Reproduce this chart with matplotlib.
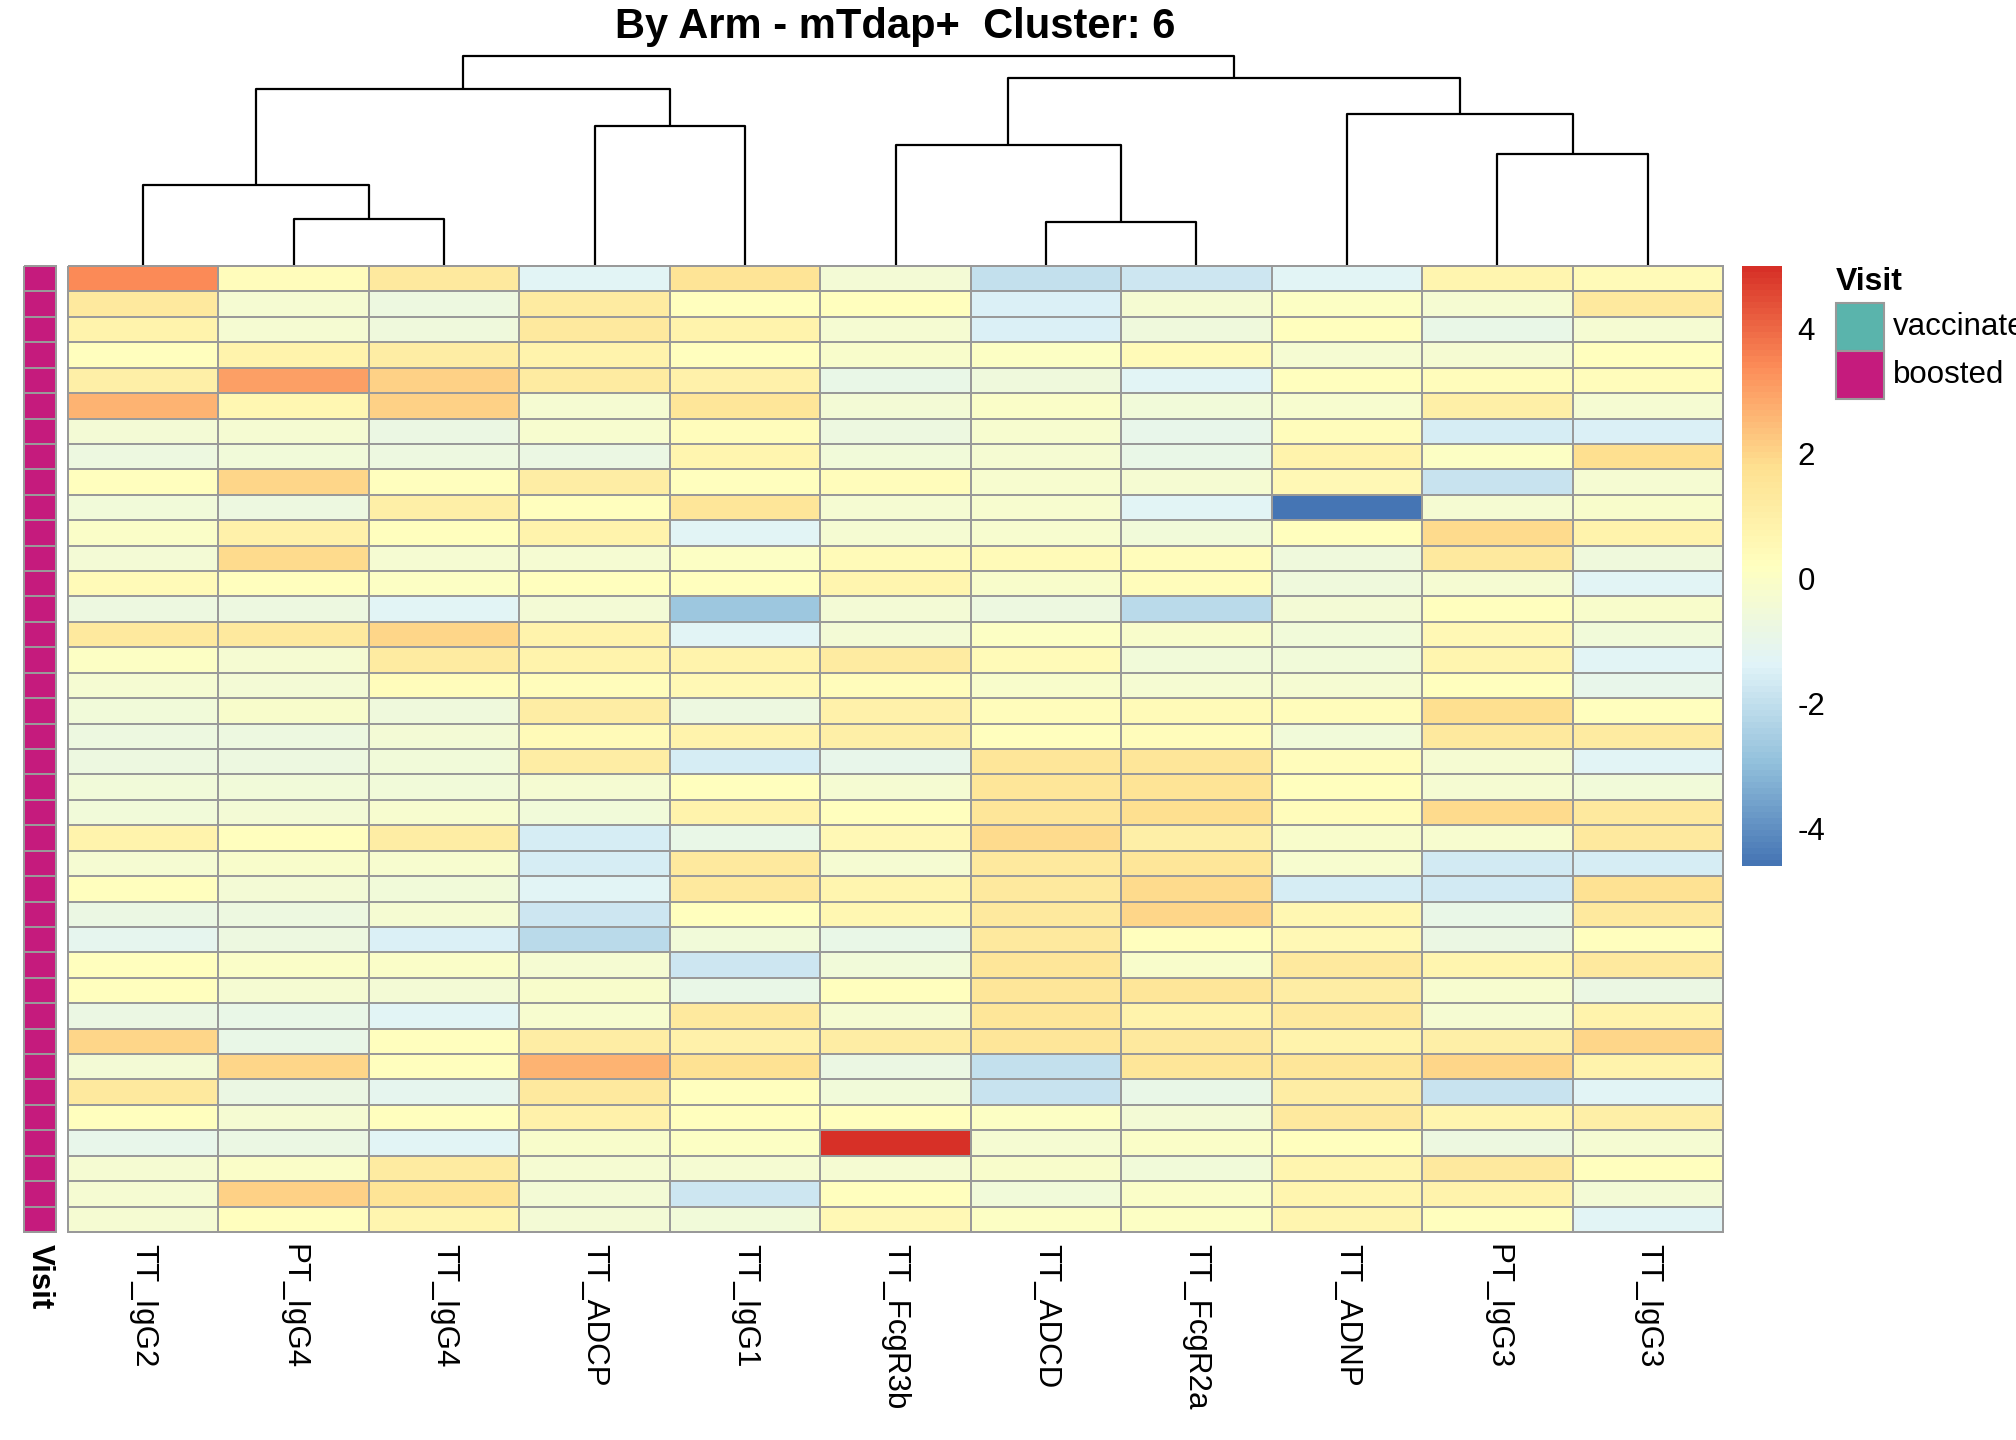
import numpy as np
import matplotlib
matplotlib.use("Agg")
import matplotlib.pyplot as plt
from matplotlib.colors import LinearSegmentedColormap, ListedColormap, Normalize
from matplotlib.patches import Rectangle

plt.rcParams['font.family'] = ['Liberation Sans', 'DejaVu Sans']
plt.rcParams['axes.unicode_minus'] = False

# column order as shown (after clustering)
features = ['TT_IgG2', 'PT_IgG4', 'TT_IgG4', 'TT_ADCP', 'TT_IgG1', 'TT_FcgR3b',
            'TT_ADCD', 'TT_FcgR2a', 'TT_ADNP', 'PT_IgG3', 'TT_IgG3']

# scaled values, one list per feature (38 samples, top to bottom)
tt_igg2 = [3.45, 1.3, 0.8, 0.2, 1.0, 2.65, -0.4, -0.7, 0.2, -0.5, 0.0, -0.4, 0.4, -0.7, 1.3, 0.1, -0.3, -0.5, -0.7,
           -0.7, -0.5, -0.5, 0.8, -0.3, 0.2, -0.8, -1.1, 0.2, 0.2, -0.8, 1.95, -0.4, 1.3, 0.2, -1.0, -0.3, -0.3, -0.3]
pt_igg4 = [0.3, -0.3, -0.3, 0.8, 3.05, 0.6, -0.3, -0.5, 1.95, -0.7, 0.9, 1.9, 0.2, -0.7, 1.3, -0.3, -0.4, -0.1, -0.7,
           -0.7, -0.5, -0.4, 0.2, -0.1, -0.4, -0.7, -0.7, 0.0, -0.3, -0.9, -0.9, 1.95, -0.8, -0.3, -0.8, 0.0, 2.05, 0.2]
tt_igg4 = [1.3, -0.7, -0.6, 1.1, 2.05, 2.1, -0.8, -0.7, 0.2, 1.0, 0.2, -0.3, 0.1, -1.3, 1.95, 1.2, 0.3, -0.6, -0.4,
           -0.5, -0.5, -0.2, 1.1, -0.2, -0.5, -0.3, -1.5, 0.0, -0.4, -1.3, 0.2, 0.2, -1.1, 0.2, -1.3, 1.2, 1.6, 0.7]
tt_adcp = [-1.3, 1.2, 1.3, 0.8, 1.2, -0.3, -0.2, -0.8, 1.1, 0.2, 0.8, -0.3, 0.2, -0.4, 0.8, 0.8, 0.3, 1.1, 0.4,
           1.1, -0.3, -0.5, -1.55, -1.55, -1.3, -1.8, -2.15, -0.3, -0.1, -0.2, 1.1, 2.65, 1.3, 0.9, -0.1, -0.3, -0.4, -0.4]
tt_igg1 = [1.6, 0.2, 0.8, 0.2, 0.9, 1.5, 0.3, 0.7, 0.2, 1.5, -1.3, 0.1, 0.2, -2.75, -1.3, 0.8, 0.5, -0.7, 0.8,
           -1.6, 0.2, 0.8, -0.9, 1.3, 1.3, 0.2, -0.5, -1.8, -0.9, 1.3, 0.9, 1.7, 0.2, 0.2, 0.1, -0.3, -1.8, -0.5]
tt_fcgr3b = [-0.4, 0.2, -0.3, -0.1, -0.9, -0.4, -0.7, -0.5, 0.3, -0.3, -0.3, 0.4, 0.7, -0.4, -0.4, 1.2, 0.3, 0.9, 1.0,
             -1.0, -0.3, 0.2, 0.5, -0.3, 0.7, 0.6, -0.9, -0.5, 0.2, -0.3, 1.1, -0.8, -0.5, 0.2, 5.0, -0.3, 0.2, 0.5]
tt_adcd = [-2.0, -1.5, -1.5, 0.1, -0.6, 0.0, -0.2, -0.3, -0.2, -0.2, -0.2, 0.4, -0.1, -0.7, 0.1, 0.4, -0.1, 0.3, 0.2,
           1.5, 1.5, 1.5, 1.9, 1.3, 1.3, 1.3, 1.3, 1.5, 1.5, 1.5, 1.5, -2.0, -1.9, 0.1, -0.3, -0.1, -0.5, 0.1]
tt_fcgr2a = [-1.8, -0.3, -0.6, 0.4, -1.3, -0.5, -1.0, -0.9, -0.3, -1.3, -0.5, 0.3, 0.3, -2.15, -0.1, -0.5, -0.3, 0.4, 0.3,
             1.5, 1.6, 1.8, 1.0, 1.5, 1.9, 1.95, 0.2, -0.1, 1.5, 0.8, 1.3, 1.5, -0.9, -0.4, 0.0, -0.5, 0.0, 0.1]
tt_adnp = [-1.3, 0.1, 0.2, -0.3, 0.2, -0.2, 0.3, 0.8, 0.5, -4.6, 0.2, -0.6, -0.6, -0.4, -0.5, -0.5, -0.3, 0.3, -0.5,
           0.3, 0.2, 0.3, -0.1, -0.2, -1.55, 0.6, 0.5, 1.3, 1.1, 1.3, 0.8, 1.5, 1.1, 1.3, 0.2, 0.7, 0.7, 0.7]
pt_igg3 = [0.7, -0.3, -0.9, -0.3, 0.3, 1.0, -1.55, 0.1, -1.9, -0.3, 1.9, 1.3, -0.3, 0.2, 0.5, 0.7, 0.2, 1.8, 1.3,
           -0.3, -0.3, 1.9, -0.2, -1.7, -1.7, -0.9, -0.8, 0.7, -0.2, -0.3, 1.0, 2.0, -1.9, 0.7, -0.7, 1.3, 0.8, 0.2]
tt_igg3 = [0.4, 1.3, -0.3, 0.2, 0.3, -0.3, -1.5, 1.8, -0.3, -0.1, 0.8, -0.6, -1.3, -0.1, -0.5, -1.3, -1.0, 0.2, 1.2,
           -1.3, -0.5, 1.3, 1.3, -1.55, 1.7, 1.3, 0.2, 1.3, -0.8, 0.8, 1.95, 0.8, -1.3, 1.0, -0.3, 0.2, -0.4, -1.3]

visit = ['boosted'] * 38
visit_levels = ['vaccinated', 'boosted']
visit_colors = {'vaccinated': '#5AB4AC', 'boosted': '#C51B7D'}

# column dendrogram: (left, right, height); leaves 0..10, new nodes numbered from 11
merges = [(1, 2, 46), (0, 11, 80), (3, 4, 139), (12, 13, 176),
          (6, 7, 43), (5, 15, 120), (9, 10, 111), (8, 17, 151),
          (16, 18, 187), (14, 19, 209)]

data = np.column_stack([tt_igg2, pt_igg4, tt_igg4, tt_adcp, tt_igg1, tt_fcgr3b,
                        tt_adcd, tt_fcgr2a, tt_adnp, pt_igg3, tt_igg3])
n_rows, n_cols = data.shape
vmin, vmax = data.min(), data.max()

pal = ['#4575B4', '#91BFDB', '#E0F3F8', '#FFFFBF', '#FEE090', '#FC8D59', '#D73027']
cmap = LinearSegmentedColormap.from_list('rdylbu', pal, N=100)
norm = Normalize(vmin=vmin, vmax=vmax)
border = '#999999'

W, H = 2016, 1440
fig = plt.figure(figsize=(W / 100, H / 100), dpi=100)

def fax(x0, y0, x1, y1):
    # pixel box (top-left origin) -> axes
    return fig.add_axes([x0 / W, 1 - y1 / H, (x1 - x0) / W, (y1 - y0) / H])

# heatmap
ax = fax(68, 266, 1723, 1232)
mesh = ax.pcolormesh(data, cmap=cmap, norm=norm, edgecolors=border, linewidth=1.1)
mesh.set_clip_on(False)
ax.set_xlim(0, n_cols)
ax.set_ylim(n_rows, 0)
for s in ax.spines.values():
    s.set_visible(False)
ax.set_yticks([])
ax.set_xticks(np.arange(n_cols) + 0.5)
ax.set_xticklabels(features, rotation=270, fontsize=22.5)
ax.tick_params(axis='x', length=0, pad=9)

# annotation column
ax_a = fax(24, 266, 56, 1232)
codes = np.array([[visit_levels.index(v)] for v in visit])
ax_a.pcolormesh(codes, cmap=ListedColormap([visit_colors[l] for l in visit_levels]),
                vmin=-0.5, vmax=1.5, edgecolors=border, linewidth=1.1).set_clip_on(False)
ax_a.set_xlim(0, 1)
ax_a.set_ylim(n_rows, 0)
for s in ax_a.spines.values():
    s.set_visible(False)
ax_a.set_yticks([])
ax_a.set_xticks([0.5])
ax_a.set_xticklabels(['Visit'], rotation=270, fontsize=22.5, fontweight='bold')
ax_a.tick_params(axis='x', length=0, pad=9)

# dendrogram
ax_d = fax(68, 56, 1723, 265)
pos = {i: (i + 0.5, 0) for i in range(n_cols)}
for k, (a, b, h) in enumerate(merges):
    xa, ha = pos[a]
    xb, hb = pos[b]
    ax_d.plot([xa, xa, xb, xb], [ha, h, h, hb], color='black', lw=1.6,
              solid_capstyle='butt', clip_on=False)
    pos[n_cols + k] = ((xa + xb) / 2, h)
ax_d.set_xlim(0, n_cols)
ax_d.set_ylim(0, max(m[2] for m in merges))
ax_d.axis('off')

# colour bar
ax_c = fax(1742, 266, 1782, 866)
sm = plt.cm.ScalarMappable(norm=norm, cmap=cmap)
cb = fig.colorbar(sm, cax=ax_c, ticks=[-4, -2, 0, 2, 4])
cb.outline.set_visible(False)
ax_c.tick_params(length=0, labelsize=22.5, pad=11)

# legend for Visit
fig.text(1836 / W, 1 - 282 / H, 'Visit', fontsize=23, fontweight='bold', ha='left', va='center')
for i, lev in enumerate(visit_levels):
    y0 = 303 + i * 48
    fig.patches.append(Rectangle((1836 / W, 1 - (y0 + 48) / H), 48 / W, 48 / H,
                                 transform=fig.transFigure, facecolor=visit_colors[lev],
                                 edgecolor=border, linewidth=1.5))
    fig.text(1893 / W, 1 - (y0 + 24) / H, lev, fontsize=22.5, ha='left', va='center')

fig.text(895 / W, 1 - 27 / H, 'By Arm - mTdap+  Cluster: 6', fontsize=30,
         fontweight='bold', ha='center', va='center')

fig.savefig('out.png', dpi=100)
